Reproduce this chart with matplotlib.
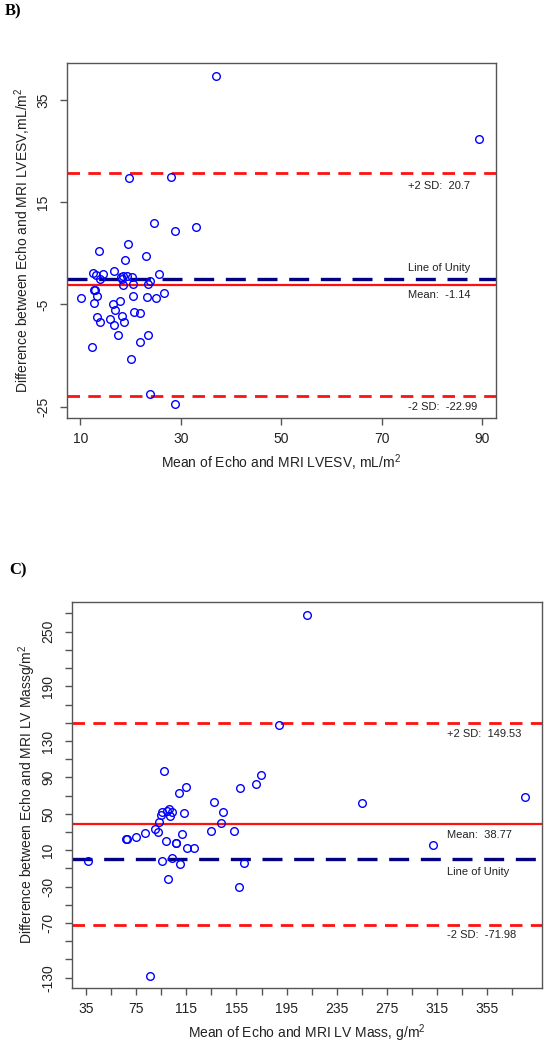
import numpy as np
import matplotlib
matplotlib.use("Agg")
import matplotlib.pyplot as plt

plt.rcParams['font.family'] = ['Liberation Sans', 'DejaVu Sans']
plt.rcParams['mathtext.fontset'] = 'custom'
plt.rcParams['mathtext.rm'] = 'Liberation Sans'
plt.rcParams['mathtext.it'] = 'Liberation Sans'
plt.rcParams['axes.unicode_minus'] = False

# panel B: LVESV
esv_mean = [37.0, 19.7, 28.1, 24.7, 28.8, 33.1, 19.5, 13.7, 23.1, 19.0,
            12.5, 13.1, 14.6, 16.7, 18.1, 18.3, 19.3, 20.3, 14.0, 25.6,
            23.9, 23.4, 20.6, 18.5, 12.7, 13.0, 13.3, 10.1, 20.5, 23.3,
            25.1, 26.7, 12.7, 17.9, 16.5, 17.0, 13.3, 13.9, 16.0, 16.7,
            18.4, 18.8, 20.8, 21.8, 17.5, 23.5, 21.9, 12.4, 20.1, 23.8,
            28.9, 89.5, 18.6]
esv_diff = [39.7, 19.7, 19.85, 10.9, 9.3, 10.1, 6.9, 5.4, 4.4, 3.65,
            1.2, 0.85, 1.0, 1.6, 0.4, -0.1, 0.5, 0.3, -0.1, 1.0,
            -0.4, -1.0, -1.0, -1.2, -2.2, -2.2, -3.4, -3.7, -3.3, -3.5,
            -3.8, -2.8, -4.8, -4.4, -4.9, -6.0, -7.4, -8.4, -7.9, -9.0,
            -7.3, -8.5, -6.5, -6.7, -11.0, -11.0, -12.4, -13.3, -15.7, -22.6,
            -24.5, 27.3, 0.6]
esv_sd_hi = 20.7
esv_bias = -1.14
esv_sd_lo = -22.99

# panel C: LV mass
mass_mean = [36.9, 67.0, 68.0, 75.0, 81.7, 89.7, 92.6, 92.9, 95.0, 96.0,
             96.9, 99.5, 101.4, 103.5, 102.2, 99.0, 107.0, 106.5, 96.0, 104.0,
             100.3, 110.2, 109.4, 114.7, 113.4, 111.3, 115.5, 120.9, 134.5, 136.9,
             144.0, 142.5, 153.4, 158.0, 157.1, 160.9, 171.0, 174.5, 188.6, 211.5,
             255.5, 311.8, 384.8, 86.0]
mass_diff = [-1.5, 22.0, 22.7, 25.0, 28.5, 32.9, 29.6, 41.3, 48.6, 51.6,
             97.3, 53.4, 54.9, 51.6, 47.9, 19.7, 17.5, 18.3, -1.5, 1.1,
             -22.0, -5.5, 73.2, 79.8, 50.5, 27.4, 12.0, 12.0, 30.7, 63.3,
             51.6, 39.5, 30.7, 78.7, -30.8, -4.4, 83.0, 92.2, 147.5, 268.3,
             61.5, 15.4, 68.8, -128.0]
mass_sd_hi = 149.53
mass_bias = 38.77
mass_sd_lo = -71.98

fig = plt.figure(figsize=(5.45, 10.47), dpi=100)
W, H = 545.0, 1047.0

def axes_px(l, t, r, b):
    return fig.add_axes([l / W, 1 - b / H, (r - l) / W, (b - t) / H])

def style(ax):
    for s in ax.spines.values():
        s.set_color('#555555')
        s.set_linewidth(1.0)
    ax.tick_params(direction='out', length=5, width=1, color='#555555',
                   labelsize=10, labelcolor='#222222')
    ax.tick_params(axis='x', pad=5)
    ax.tick_params(axis='y', pad=7)

def draw_lines(ax, hi, bias, lo):
    ax.axhline(hi, color='#ff1010', lw=2, ls=(0, (4.5, 3)))
    ax.axhline(lo, color='#ff1010', lw=2, ls=(0, (4.5, 3)))
    ax.axhline(bias, color='#ff1010', lw=1.6)
    ax.axhline(0, color='#000080', lw=2.4, ls=(0, (6, 3.5)))

def note(ax, x, y, s, dy, va):
    ax.annotate(s, xy=(x, y), xytext=(0, dy), textcoords='offset points',
                va=va, ha='left', fontsize=8, color='#222222')

# ---- B ----
axB = axes_px(66.7, 63, 496, 418)
style(axB)
draw_lines(axB, esv_sd_hi, esv_bias, esv_sd_lo)
axB.plot(esv_mean, esv_diff, 'o', mfc='none', mec='#0000ff', ms=5.5, mew=1)
axB.set_xlim(7.3, 92.8)
axB.set_ylim(-27.2, 42.2)
axB.set_xticks([10, 30, 50, 70, 90])
axB.set_yticks([-25, -5, 15, 35])
for lab in axB.get_yticklabels():
    lab.set_rotation(90)
    lab.set_va('center')
note(axB, 75.3, esv_sd_hi, '+2 SD:  20.7', -6, 'top')
note(axB, 75.3, 0, 'Line of Unity', 4, 'bottom')
note(axB, 75.3, esv_bias, 'Mean:  -1.14', -4, 'top')
note(axB, 75.3, esv_sd_lo, '-2 SD:  -22.99', -4, 'top')
axB.set_xlabel('Mean of Echo and MRI LVESV, mL$/$m$^2$', fontsize=10,
               color='#222222', labelpad=5)
axB.set_ylabel('Difference between Echo and MRI LVESV,mL$/$m$^2$', fontsize=10,
               color='#222222', labelpad=2)

# ---- C ----
axC = axes_px(71.7, 602, 541.7, 987.7)
style(axC)
draw_lines(axC, mass_sd_hi, mass_bias, mass_sd_lo)
axC.plot(mass_mean, mass_diff, 'o', mfc='none', mec='#0000ff', ms=5.5, mew=1)
axC.set_xlim(23.6, 398.5)
axC.set_ylim(-141, 282.6)
xt = list(range(35, 376, 20))
axC.set_xticks(xt)
axC.set_xticklabels([str(v) if (v - 35) % 40 == 0 and v <= 355 else '' for v in xt])
yt = list(range(-130, 271, 20))
ylab_shown = [250, 190, 130, 90, 50, 10, -30, -70, -130]
axC.set_yticks(yt)
axC.set_yticklabels([str(v) if v in ylab_shown else '' for v in yt])
for lab in axC.get_yticklabels():
    lab.set_rotation(90)
    lab.set_va('center')
note(axC, 323, mass_sd_hi, '+2 SD:  149.53', -4, 'top')
note(axC, 323, mass_bias, 'Mean:  38.77', -4, 'top')
note(axC, 323, 0, 'Line of Unity', -5.5, 'top')
note(axC, 323, mass_sd_lo, '-2 SD:  -71.98', -4, 'top')
axC.set_xlabel('Mean of Echo and MRI LV Mass, g$/$m$^2$', fontsize=10,
               color='#222222', labelpad=5)
axC.set_ylabel('Difference between Echo and MRI LV Massg$/$m$^2$', fontsize=10,
               color='#222222', labelpad=2)

fig.text(5 / W, 1 - 11 / H, 'B)', family='Liberation Serif', weight='bold',
         fontsize=12, va='center', ha='left')
fig.text(9 / W, 1 - 570 / H, 'C)', family='Liberation Serif', weight='bold',
         fontsize=12, va='center', ha='left')

fig.savefig('out.png', dpi=100)
